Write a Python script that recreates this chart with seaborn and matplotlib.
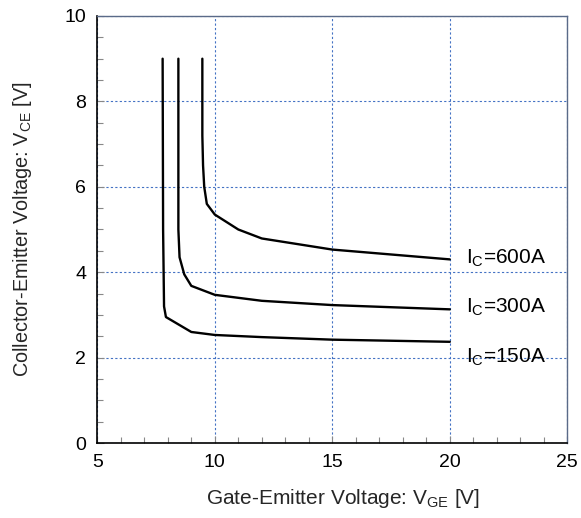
import numpy as np
import pandas as pd
import matplotlib
matplotlib.use("Agg")
import matplotlib.pyplot as plt
import seaborn as sns
from matplotlib.ticker import MultipleLocator

# Data
vge_600 = [9.47, 9.47, 9.50, 9.55, 9.66, 10.0, 11.0, 12.0, 15.0, 20.0]
vce_600 = [9.00, 7.20, 6.50, 6.00, 5.60, 5.35, 5.00, 4.79, 4.53, 4.30]

vge_300 = [8.45, 8.45, 8.50, 8.70, 9.00, 10.0, 12.0, 15.0, 20.0]
vce_300 = [9.00, 5.00, 4.35, 3.95, 3.68, 3.47, 3.33, 3.23, 3.13]

vge_150 = [7.78, 7.80, 7.84, 7.92, 9.00, 10.0, 12.0, 15.0, 20.0]
vce_150 = [9.00, 5.00, 3.20, 2.95, 2.60, 2.53, 2.48, 2.42, 2.37]

series_labels = ["I$_\\mathrm{C}$=600A", "I$_\\mathrm{C}$=300A", "I$_\\mathrm{C}$=150A"]
label_x = [20.7, 20.7, 20.7]
label_y = [4.32, 3.18, 2.0]

x_ticks = [5, 10, 15, 20, 25]
y_ticks = [0, 2, 4, 6, 8, 10]

sns.set_theme(style="white")
plt.rcParams["font.family"] = ["Liberation Sans", "DejaVu Sans"]
plt.rcParams["mathtext.fontset"] = "custom"
plt.rcParams["mathtext.rm"] = "Liberation Sans"
plt.rcParams["mathtext.it"] = "Liberation Sans:italic"

df = pd.concat([
    pd.DataFrame({"VGE": vge_600, "VCE": vce_600, "Ic": "600A"}),
    pd.DataFrame({"VGE": vge_300, "VCE": vce_300, "Ic": "300A"}),
    pd.DataFrame({"VGE": vge_150, "VCE": vce_150, "Ic": "150A"}),
])

fig = plt.figure(figsize=(5.81, 5.18), dpi=100)
ax = fig.add_axes([97.3 / 581, 75 / 518, 470 / 581, 427 / 518])

sns.lineplot(data=df, x="VGE", y="VCE", units="Ic", estimator=None, sort=False,
             color="black", linewidth=1.7, ax=ax, legend=False)

ax.set_xlim(5, 25)
ax.set_ylim(0, 10)
ax.set_xticks(x_ticks)
ax.set_yticks(y_ticks)
ax.xaxis.set_minor_locator(MultipleLocator(1))
ax.yaxis.set_minor_locator(MultipleLocator(0.5))
ax.grid(True, which="major", color="#4472C4", linestyle=(0, (2, 2)), linewidth=0.8)
ax.set_axisbelow(True)

ax.tick_params(axis="both", which="major", direction="in", length=5, width=0.8,
               color="#888888", labelsize=14, pad=8, bottom=True, left=True)
ax.tick_params(axis="both", which="minor", direction="in", length=4, width=0.8,
               color="#888888", bottom=True, left=True)
for t in ax.get_xticklabels() + ax.get_yticklabels():
    t.set_color("black")

for side in ["left", "bottom"]:
    ax.spines[side].set_color("black")
    ax.spines[side].set_linewidth(1.2)
for side in ["top", "right"]:
    ax.spines[side].set_color("#5a6a88")
    ax.spines[side].set_linewidth(1.0)

ax.set_xlabel("Gate-Emitter Voltage: V$_\\mathrm{GE}$ [V]", fontsize=15)
ax.xaxis.set_label_coords(0.523, -0.104)
ax.set_ylabel("Collector-Emitter Voltage: V$_\\mathrm{CE}$ [V]", fontsize=14.3, labelpad=22)

for lbl, lx, ly in zip(series_labels, label_x, label_y):
    ax.text(lx, ly, lbl, fontsize=15, ha="left", va="center", color="black")

fig.savefig("out.png", dpi=100)
